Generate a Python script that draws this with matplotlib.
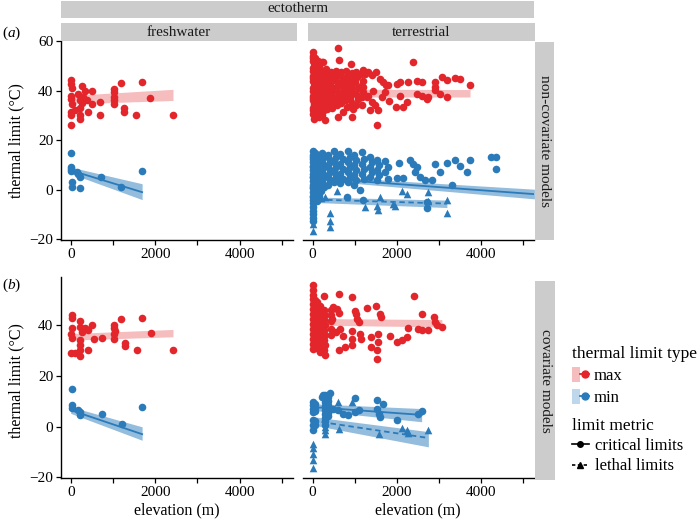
import numpy as np
import matplotlib
matplotlib.use('Agg')
import matplotlib.pyplot as plt
from matplotlib.patches import Patch
from matplotlib.lines import Line2D
from matplotlib.legend_handler import HandlerTuple

plt.rcParams['font.family'] = ['Liberation Serif', 'DejaVu Serif']
plt.rcParams['mathtext.fontset'] = 'custom'
plt.rcParams['mathtext.rm'] = 'Liberation Serif'
plt.rcParams['mathtext.it'] = 'Liberation Serif:italic'

RED = '#E3262B'
BLUE = '#2B7BBA'
STRIP = '#CCCCCC'
SERIF = ['Liberation Serif', 'DejaVu Serif']

# ---- data: (elevation m, thermal limit degC) ----
# (a) non-covariate models, freshwater
fw_nc_max = [(0, 44.1), (0, 42.7), (20, 41), (0, 38), (0, 36.7), (20, 34.7), (0, 31.3), (0, 30),
             (10, 26), (100, 32), (180, 38.5), (220, 36), (220, 33), (220, 30), (220, 28.6),
             (260, 42), (300, 37.5), (260, 35), (340, 40), (380, 36), (420, 31.5), (500, 34.6),
             (500, 40), (700, 35.4), (700, 30), (1015, 34.6), (1015, 37.4), (1015, 39.3),
             (1015, 40.6), (1015, 36), (1250, 33), (1265, 31.5), (1200, 43), (1555, 30),
             (1690, 43.5), (1865, 37), (2420, 30)]
fw_nc_min = [(0, 15), (0, 9), (0, 7.7), (20, 3), (20, 1.2), (140, 7), (180, 6.3), (220, 5.3),
             (220, 0.5), (720, 5), (1200, 1), (1690, 7.5), (0, 8.4)]
# (b) covariate models, freshwater
fw_c_max = [(20, 44), (20, 42.8), (20, 38.7), (0, 36.7), (20, 35), (0, 29), (220, 41.6),
            (220, 39.3), (260, 37.4), (220, 34), (220, 32), (220, 30), (220, 28), (100, 29),
            (340, 38.7), (400, 38), (500, 40), (420, 30), (540, 34.7), (740, 35), (1015, 40),
            (1015, 38.7), (1015, 36.7), (1015, 34.7), (1040, 37.7), (1290, 32.9), (1290, 31.6),
            (1200, 42.6), (1570, 30), (1690, 43), (1890, 37), (2420, 30)]
fw_c_min = [(20, 14.9), (20, 8.6), (20, 7.2), (180, 6.6), (220, 5.9), (220, 4.6), (740, 4.9),
            (1210, 0.9), (1690, 7.6)]

# (a) non-covariate models, terrestrial
te_nc_max = [
    (0, 55.5), (10, 54), (0, 52), (20, 50), (0, 48), (15, 46), (0, 44), (25, 42), (0, 40),
    (10, 38), (0, 36), (20, 34), (0, 32), (10, 30.5), (30, 28.6), (5, 53), (5, 49), (5, 45),
    (5, 41), (5, 37), (5, 33),
    (60, 53), (40, 51), (75, 49), (45, 47), (70, 45), (40, 43), (80, 41), (50, 39), (65, 37),
    (40, 35), (75, 33), (55, 31),
    (120, 52), (140, 49.5), (110, 47.5), (150, 45.5), (125, 43.5), (160, 41.5), (115, 39.5),
    (145, 37.5), (130, 35.5), (155, 33.5), (120, 31.5), (140, 29.5),
    (210, 51.5), (240, 48), (200, 46), (250, 44), (220, 42), (260, 40), (205, 38), (245, 36),
    (225, 34), (265, 32), (215, 30), (250, 51.5), (290, 28.2),
    (320, 48.5), (350, 46.5), (310, 44.5), (360, 42.5), (330, 40.5), (370, 38.5), (315, 36.5),
    (355, 34.5), (335, 32.5),
    (430, 47.5), (470, 45), (420, 43), (480, 41), (440, 39), (475, 37), (425, 35), (460, 33),
    (560, 48), (590, 46), (545, 44), (600, 42), (570, 40), (610, 38), (550, 36), (590, 34),
    (610, 29.5), (610, 57.3), (625, 52.2),
    (680, 47.5), (720, 45), (670, 43), (735, 41), (690, 39), (725, 37), (675, 35),
    (800, 48), (840, 46), (790, 44), (850, 42), (810, 40), (845, 38), (795, 36), (730, 31.3),
    (810, 33.3), (900, 50.8), (930, 47), (890, 45), (950, 43), (910, 41), (960, 39), (895, 37),
    (940, 35), (930, 29.3), (970, 32.6),
    (1030, 47.5), (1060, 45.5), (1015, 43.5), (1075, 41), (1040, 38.5), (1080, 36.5),
    (1025, 34), (1160, 46.5), (1190, 44), (1145, 42), (1200, 39.5), (1170, 37.5), (1165, 34),
    (1200, 48.1), (1245, 46.8), (1320, 47.4), (1400, 46.1), (1500, 47.4), (1285, 37.4),
    (1400, 35.4), (1480, 34), (1360, 32), (1560, 32), (1520, 26.2), (1600, 44.8), (1680, 43.4),
    (1740, 42.1), (1800, 42.1), (1200, 41.4), (1440, 40), (1320, 38), (1820, 35.6),
    (1720, 39.3), (1640, 37.4),
    (2000, 42.7), (2075, 43.4), (2270, 43.4), (2490, 44), (2590, 43.4), (2390, 51.5),
    (2075, 38), (2235, 35.3), (2155, 33.3), (1980, 33.3), (2470, 38.7), (2590, 38),
    (2750, 37.4), (2710, 36.7), (2910, 43.4), (2910, 41.4), (2910, 40.1), (3030, 38.7),
    (3190, 37.4), (3070, 45.4), (3190, 44.1), (3380, 45.1), (3500, 44.7), (3740, 42.1)]
te_nc_min_crit = [
    (0, 15.5), (0, 14), (0, 12.5), (0, 11), (0, 9.5), (0, 8), (0, 6.5), (0, 5), (0, 3.5), (0, 2),
    (0, 0.5), (0, -1), (0, -2.5), (0, -4), (0, -5.5), (0, -7), (0, -8.5), (0, -10), (0, -11.5),
    (0, -12.5), (15, 13), (15, 9), (15, 5), (15, 1), (15, -3),
    (50, 15), (80, 13), (50, 11), (80, 9), (50, 7), (80, 5), (50, 3), (80, 1), (50, -1), (80, -3),
    (100, -4.5), (150, -2.5), (200, -0.5),
    (120, 14), (160, 12), (120, 10), (160, 8), (120, 6), (160, 4), (120, 2), (160, 0),
    (230, 15), (270, 13), (230, 11), (270, 9), (230, 7), (270, 5), (230, 3), (270, 1),
    (360, 14), (410, 12), (360, 10), (410, 8), (360, 6), (410, 4), (360, 2),
    (500, 15.5), (545, 13), (500, 11), (545, 9), (500, 7), (545, 5), (500, 3),
    (660, 14.5), (710, 12.5), (660, 10.5), (710, 8.5), (660, 6.5), (710, 4.5), (660, 2.5),
    (830, 15.8), (880, 13), (830, 11), (880, 9), (830, 7), (880, 5), (830, 3),
    (985, 14), (1030, 12), (985, 10), (1030, 8), (985, 6), (1030, 4), (985, 2),
    (1180, 15.4), (1230, 12.5), (1180, 10.5), (1230, 8.5), (1180, 6.5), (1230, 4.5),
    (1360, 13), (1410, 11), (1360, 9), (1410, 7), (1360, 5),
    (1530, 12), (1580, 10), (1530, 8), (1580, 6), (1530, 4),
    (1730, 11.5), (1780, 9), (1730, 7), (1780, 4.5),
    (2050, 10.7), (2310, 11.8), (2390, 10.5), (2470, 9.2), (2430, 7.3), (2550, 5.3),
    (2670, 3.9), (2840, 3.9), (2000, 4.6), (2155, 4.6), (2910, 10.3), (3190, 10.7), (3030, 7.3),
    (3380, 12), (3500, 9.7), (3740, 12), (3660, 7), (4250, 13.2), (4360, 13.2), (4350, 8.3),
    (3300, 1.9), (810, -2.8), (1200, -4), (1125, -0.1), (2710, -5), (2710, -7.5)]
te_nc_min_leth = [
    (0, -14), (0, -16.5), (410, -9.6), (410, -12.7), (410, -15), (570, -0.4), (200, -3.5),
    (300, -2.8), (1240, -7.1), (1520, -6.7), (1560, -8.1), (1600, -2.8), (1920, -5.8),
    (1960, -6.7), (2120, -0.7), (2250, -1.8), (2730, -1.1), (2730, -4.4), (3190, -4.2),
    (3190, -9.4)]

# (b) covariate models, terrestrial
te_c_max = [
    (0, 55.8), (0, 54), (0, 52), (10, 50.5), (0, 48.5), (10, 46.5), (0, 44.5), (10, 42.5),
    (0, 40.5), (10, 38.5), (0, 36.5), (10, 34.5), (0, 32.5), (10, 30.5),
    (50, 50), (30, 48), (55, 46), (30, 44), (55, 42), (30, 40), (55, 38), (30, 36), (55, 34),
    (30, 32),
    (110, 49), (90, 47), (115, 45), (90, 43), (115, 41), (90, 39), (115, 37), (90, 35),
    (115, 33), (90, 31),
    (170, 47.5), (190, 45.5), (160, 43.5), (190, 41.5), (160, 39.5), (190, 37.5), (160, 35.5),
    (190, 33.5), (160, 31.5), (180, 29.5),
    (280, 46), (290, 44), (275, 42), (290, 40), (275, 38), (290, 36), (275, 34), (290, 32),
    (275, 30), (285, 28.3), (270, 51.4),
    (430, 46), (430, 44), (430, 41.5), (430, 38.5), (430, 36),
    (490, 47.1), (570, 46.2), (630, 44.6), (450, 42.6), (630, 52.2), (930, 50.9), (2420, 51.4),
    (1000, 45.7), (1030, 44.4), (1045, 42.4), (1110, 41.1), (1280, 46.7), (1500, 47.6),
    (1600, 44.4), (1630, 43.1), (930, 37.8), (1125, 36.5), (1160, 34.5), (930, 34.5),
    (1390, 35.2), (1550, 36.5), (1560, 33.5), (1390, 31.3), (1540, 30), (1840, 35.8),
    (2000, 33.5), (2120, 34.3), (2250, 35.2), (2270, 38.8), (2510, 38.5), (2610, 38.1),
    (2750, 38.2), (2610, 44.4), (2890, 43.1), (2910, 41.4), (2950, 40.1), (3070, 39.2),
    (630, 30.1), (770, 31.3), (930, 32), (1540, 26.5), (650, 38.4), (710, 35.8), (555, 37.1)]
te_c_min_crit = [
    (0, 9.7), (0, 8.4), (0, 7.1), (0, 5.8), (0, 2.5), (0, 0.5), (0, -1.5),
    (60, 9), (60, 7.5), (60, 6), (60, 2), (60, 0.5),
    (300, 12.4), (300, 11), (300, 9.5), (300, 8), (300, 6.5), (300, 5), (300, 3.5), (300, 2),
    (300, 0.5), (360, 11.5), (360, 10), (360, 8.5), (360, 7), (360, 5.5), (360, 4),
    (210, 11.7), (250, 12.4), (410, 13.3), (1000, 11.3), (730, 5.1), (850, 4.5), (1110, 6.4),
    (1000, 5.8), (1520, 10.3), (1660, 8.8), (1540, 7.1), (1570, 5.1), (1600, 3.8), (2000, 2.5),
    (2510, 4.8), (2610, 6.1), (490, 7.1), (610, 6.4)]
te_c_min_leth = [
    (0, -6.7), (0, -8.6), (0, -11), (0, -13.2), (0, -16.5), (300, -3), (300, -1.5), (300, 0),
    (630, -0.8), (610, 9.7), (930, 9.7), (1580, -3.1), (2130, -0.6), (2250, -1.5),
    (2270, -2.4), (2750, -1.5)]

# fitted trends: x ends, centre, lower and upper band
fw_nc_max_fit = ([0, 2420], None, [34.6, 36.0], [38.0, 40.5])
fw_nc_min_fit = ([0, 1690], [7.8, -1.0], [6.5, -4.0], [9.1, 2.4])
fw_c_max_fit = ([0, 2420], None, [34.1, 35.4], [36.7, 38.3])
fw_c_min_fit = ([0, 1690], [6.5, -3.0], [5.2, -5.4], [7.8, -0.1])
te_nc_max_fit = ([0, 3740], None, [37.4, 37.4], [40.6, 40.4])
te_nc_crit_fit = ([0, 5270], [4.8, -1.8], [4.0, -3.7], [5.6, 0.2])
te_nc_leth_fit = ([130, 3190], [-4.0, -5.6], [-5.2, -7.2], [-3.0, -4.2])
te_c_max_fit = ([0, 3070], None, [40.0, 39.3], [42.6, 42.2])
te_c_crit_fit = ([0, 2590], [7.7, 4.6], [6.4, 1.9], [9.0, 7.1])
te_c_leth_fit = ([0, 2750], [2.3, -4.5], [0.6, -8.0], [3.9, -2.0])

xticks = [0, 1000, 2000, 3000, 4000, 5000]
xticklabels = ['0', '', '2000', '', '4000', '']
yticks = [-20, 0, 20, 40, 60]

W, H = 700, 523
fig = plt.figure(figsize=(7, 5.23), dpi=100)


def px_box(l, t, r, b):
    return [l / W, 1 - b / H, (r - l) / W, (b - t) / H]


def pts(ax, data, color, marker):
    a = np.array(data)
    ax.scatter(a[:, 0], a[:, 1], s=30, c=color, marker=marker, linewidths=0, zorder=2)


def fit(ax, f, color, alpha, ls='-'):
    x, mid, lo, hi = f
    ax.fill_between(x, lo, hi, color=color, alpha=alpha, lw=0, zorder=3)
    if mid is not None:
        ax.plot(x, mid, color=color, lw=1.3, ls=ls, zorder=4)


def style(ax, ylim, left=True):
    ax.set_xticks(xticks)
    ax.set_xticklabels(xticklabels)
    ax.set_yticks(yticks)
    ax.set_xlim(-230, 5270)
    ax.set_ylim(*ylim)
    for s in ['top', 'right']:
        ax.spines[s].set_visible(False)
    ax.spines['left'].set_visible(left)
    for s in ['left', 'bottom']:
        ax.spines[s].set_linewidth(1.0)
    ax.tick_params(length=3.5, width=0.9, labelsize=11, pad=2, colors='black')
    if not left:
        ax.tick_params(axis='y', left=False, labelleft=False)


def strip(l, t, r, b, text, rot=0, size=11):
    sa = fig.add_axes(px_box(l, t, r, b))
    sa.set_facecolor(STRIP)
    sa.set_xticks([])
    sa.set_yticks([])
    for s in sa.spines.values():
        s.set_visible(False)
    sa.text(0.5, 0.5, text, ha='center', va='center', rotation=rot, fontsize=size,
            color='#1a1a1a', transform=sa.transAxes)


ax1 = fig.add_axes(px_box(61, 40.5, 293.4, 240))
ax2 = fig.add_axes(px_box(303, 40.5, 534.4, 240))
ax3 = fig.add_axes(px_box(61, 276.7, 293.4, 478.3))
ax4 = fig.add_axes(px_box(303, 276.7, 534.4, 478.3))

# freshwater, non-covariate
pts(ax1, fw_nc_max, RED, 'o')
pts(ax1, fw_nc_min, BLUE, 'o')
fit(ax1, fw_nc_max_fit, RED, 0.3)
fit(ax1, fw_nc_min_fit, BLUE, 0.5)
# terrestrial, non-covariate
pts(ax2, te_nc_max, RED, 'o')
pts(ax2, te_nc_min_crit, BLUE, 'o')
pts(ax2, te_nc_min_leth, BLUE, '^')
fit(ax2, te_nc_max_fit, RED, 0.3)
fit(ax2, te_nc_crit_fit, BLUE, 0.5)
fit(ax2, te_nc_leth_fit, BLUE, 0.5, ls=(0, (3, 2)))
# freshwater, covariate
pts(ax3, fw_c_max, RED, 'o')
pts(ax3, fw_c_min, BLUE, 'o')
fit(ax3, fw_c_max_fit, RED, 0.3)
fit(ax3, fw_c_min_fit, BLUE, 0.5)
# terrestrial, covariate
pts(ax4, te_c_max, RED, 'o')
pts(ax4, te_c_min_crit, BLUE, 'o')
pts(ax4, te_c_min_leth, BLUE, '^')
fit(ax4, te_c_max_fit, RED, 0.3)
fit(ax4, te_c_crit_fit, BLUE, 0.5)
fit(ax4, te_c_leth_fit, BLUE, 0.5, ls=(0, (3, 2)))

style(ax1, (-20.3, 60.2))
style(ax2, (-20.3, 60.2), left=False)
style(ax3, (-20.4, 59.1))
style(ax4, (-20.4, 59.1), left=False)

# facet strips
strip(61, 0.5, 534, 17.5, 'ectotherm')
strip(61, 23, 297, 41, 'freshwater')
strip(308, 23, 535, 41, 'terrestrial')
strip(535, 42, 554, 240, 'non-covariate models', rot=-90)
strip(535, 281, 555, 480, 'covariate models', rot=-90)

# axis titles and panel letters
fig.text(16 / W, 1 - 141 / H, 'thermal limit (°C)', rotation=90, ha='center', va='center', fontsize=11.5)
fig.text(16 / W, 1 - 381 / H, 'thermal limit (°C)', rotation=90, ha='center', va='center', fontsize=11.5)
fig.text(177 / W, 1 - 510 / H, 'elevation (m)', ha='center', va='center', fontsize=11.5)
fig.text(418 / W, 1 - 510 / H, 'elevation (m)', ha='center', va='center', fontsize=11.5)
fig.text(2 / W, 1 - 33 / H, r'($\mathit{a}$)', ha='left', va='center', fontsize=11)
fig.text(2 / W, 1 - 285 / H, r'($\mathit{b}$)', ha='left', va='center', fontsize=11)

# legends
type_handles = [(Patch(fc=RED, alpha=0.3, ec='none'), Line2D([], [], color=RED, marker='o', ms=5, lw=1.3)),
                (Patch(fc=BLUE, alpha=0.3, ec='none'), Line2D([], [], color=BLUE, marker='o', ms=5, lw=1.3))]
leg1 = fig.legend(type_handles, ['max', 'min'], title='thermal limit type',
                  handler_map={tuple: HandlerTuple(ndivide=None, pad=0)},
                  loc='upper left', bbox_to_anchor=(572 / W, 1 - 346 / H), frameon=False,
                  prop={'family': SERIF, 'size': 12},
                  title_fontproperties={'family': SERIF, 'size': 12.5},
                  alignment='left', handlelength=1.0, handleheight=1.0, handletextpad=0.3,
                  labelspacing=0.3, borderpad=0, borderaxespad=0)
metric_handles = [Line2D([], [], color='black', marker='o', ms=4, lw=1.2),
                  Line2D([], [], color='black', marker='^', ms=4.5, lw=1.2, ls=(0, (2, 1.5)))]
leg2 = fig.legend(metric_handles, ['critical limits', 'lethal limits'], title='limit metric',
                  loc='upper left', bbox_to_anchor=(572 / W, 1 - 418 / H), frameon=False,
                  prop={'family': SERIF, 'size': 12},
                  title_fontproperties={'family': SERIF, 'size': 12.5},
                  alignment='left', handlelength=1.0, handletextpad=0.4, labelspacing=0.25,
                  borderpad=0, borderaxespad=0)

fig.savefig('out.png', dpi=100)
